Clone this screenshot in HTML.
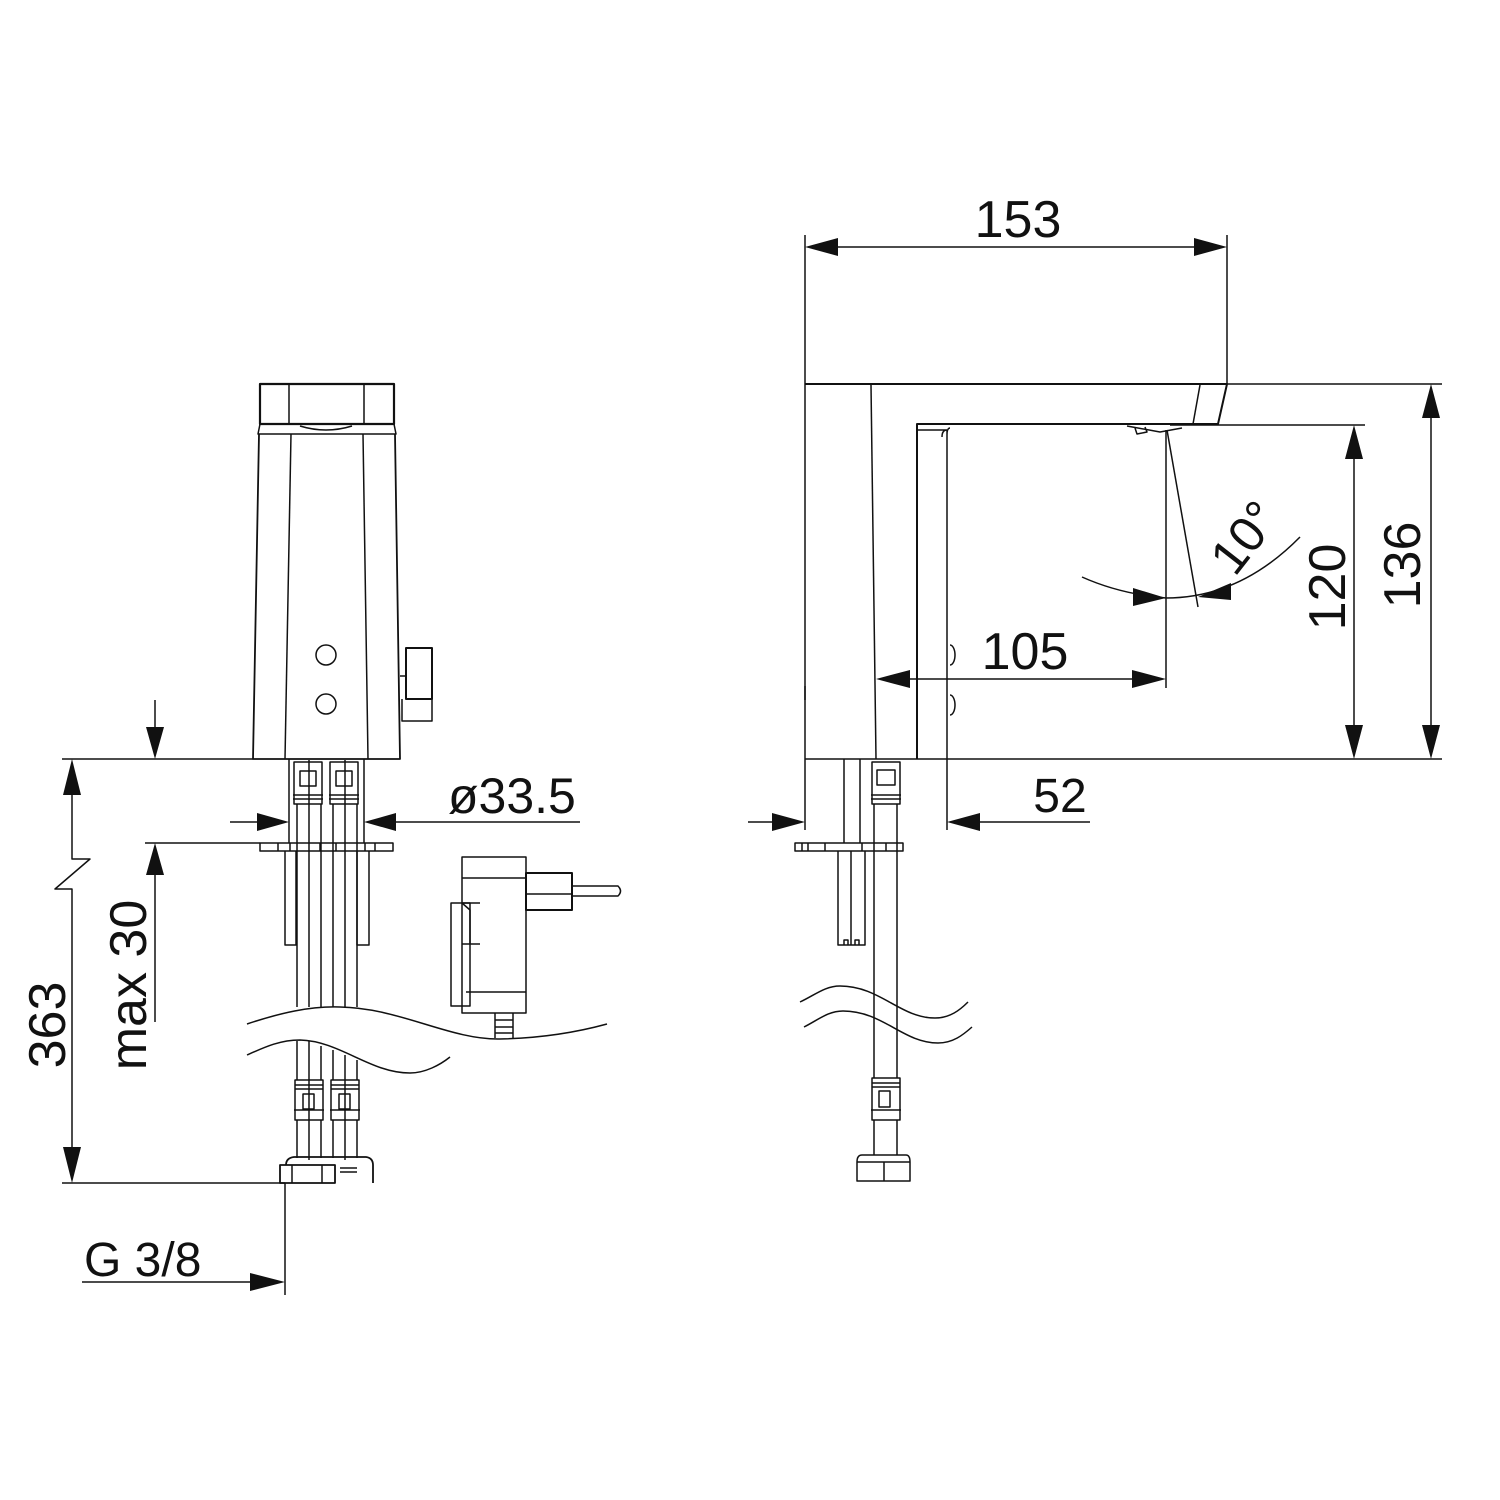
<!DOCTYPE html>
<html><head><meta charset="utf-8"><style>
html,body{margin:0;padding:0;background:#fff}
svg{display:block}
text{font-family:"Liberation Sans",sans-serif;fill:#111}
</style></head><body>
<svg width="1500" height="1500" viewBox="0 0 1500 1500" xmlns="http://www.w3.org/2000/svg">
<g fill="none" stroke="#111" stroke-width="1.5" stroke-linejoin="round">
<!-- ===== LEFT FAUCET ===== -->
<rect x="260" y="384" width="134" height="40" stroke-width="2.2"/>
<line x1="289" y1="384" x2="289" y2="424"/>
<line x1="364" y1="384" x2="364" y2="424"/>
<path d="M260 424 L258 434 L396 434 L394 424"/>
<path d="M300 426 Q326 434 352 426" />
<path d="M259 434 L253 759 L400 759 L395 434" stroke-width="1.8"/>
<line x1="291" y1="434" x2="285" y2="759"/>
<line x1="363" y1="434" x2="368" y2="759"/>
<circle cx="326" cy="655" r="10"/>
<circle cx="326" cy="704" r="10"/>
<rect x="406" y="648" width="26" height="51" stroke-width="2"/>
<path d="M400 676 L406 676 M402 699 L402 721 L432 721 L432 699"/>
<!-- pipes upper -->
<line x1="289" y1="759" x2="289" y2="843"/>
<line x1="364" y1="759" x2="364" y2="843"/>
<path d="M294 762 h28 v42 h-28 z M293 795 h30 M293 799 h30"/>
<path d="M330 762 h28 v42 h-28 z M329 795 h30 M329 799 h30"/>
<rect x="300" y="771" width="16" height="15"/>
<rect x="336" y="771" width="16" height="15"/>
<path d="M297 804 V1007 M309 760 V1007 M321 804 V1007 M333 804 V1007 M345 760 V1007 M357 804 V1007"/>
<!-- flange -->
<rect x="260" y="843" width="133" height="8"/>
<path d="M278 843 v8 M290 843 v8 M320 843 v8 M336 843 v8 M365 843 v8 M375 843 v8"/>
<path d="M285 851 V945 H296 V851 M357 851 V945 H369 V851"/>
<!-- wave cuts -->
<path d="M247 1024 C280 1013 310 1006 340 1007 C400 1008 450 1040 500 1039 C550 1038 585 1030 607 1024"/>
<path d="M247 1055 C265 1047 280 1040 300 1040 C340 1041 370 1073 410 1073 C425 1073 440 1065 450 1057"/>
<!-- pipes lower -->
<path d="M297 1041 V1080 M309 1041 V1160 M321 1046 V1080 M333 1050 V1080 M345 1055 V1160 M357 1060 V1080"/>
<path d="M295 1080 h28 v40 h-28 z M295 1085 h28 M295 1089 h28 M294 1110 h30"/>
<path d="M331 1080 h28 v40 h-28 z M331 1085 h28 M331 1089 h28 M330 1110 h30"/>
<rect x="303" y="1094" width="11" height="15"/>
<rect x="339" y="1094" width="11" height="15"/>
<path d="M297 1120 V1158 M321 1120 V1158 M333 1120 V1158 M357 1120 V1158"/>
<path d="M286 1165 Q286 1158 294 1157 H366 Q373 1158 373 1165 V1183" stroke-width="1.8"/>
<rect x="280" y="1165" width="55" height="18" stroke-width="1.8"/>
<path d="M292 1165 V1183 M322 1165 V1183 M340 1168 H357 M340 1172 H357"/>
<!-- adapter -->
<rect x="462" y="857" width="64" height="156"/>
<path d="M462 878 H526 M466 992 H526"/>
<rect x="526" y="873" width="46" height="37" stroke-width="2"/>
<path d="M526 894 H572"/>
<path d="M572 886 H618 Q623 891 618 896 H572"/>
<rect x="451" y="903" width="19" height="103"/>
<path d="M462 903 L470 910 V944 M462 944 H480 M462 903 H480"/>
<path d="M495 1013 V1038 M513 1013 V1038 M495 1020 h18 M495 1027 h18 M495 1033 h18"/>
<!-- ===== LEFT DIMENSIONS ===== -->
<path d="M62 759 H253 M62 1183 H285 M145 843 H260"/>
<path d="M72 785 V859 L90 859 L55 889 L72 889 V1155"/>
<path d="M155 700 V731 M155 871 V1022"/>
<path d="M230 822 H262 M392 822 H580"/>
<path d="M285 1183 V1295 M82 1282 H257"/>
</g>
<g fill="#111" stroke="none">
<polygon points="72,759 63,795 81,795"/>
<polygon points="72,1183 63,1147 81,1147"/>
<polygon points="155,759 146,727 164,727"/>
<polygon points="155,843 146,875 164,875"/>
<polygon points="289,822 257,813 257,831"/>
<polygon points="364,822 396,813 396,831"/>
<polygon points="285,1282 250,1273 250,1291"/>
</g>
<text x="448" y="813" font-size="50">ø33.5</text>
<text x="84" y="1276" font-size="48">G 3/8</text>
<text transform="translate(65,1025) rotate(-90)" font-size="52" text-anchor="middle">363</text>
<text transform="translate(146,985) rotate(-90)" font-size="52" text-anchor="middle">max  30</text>

<!-- ===== RIGHT FAUCET ===== -->
<g fill="none" stroke="#111" stroke-width="1.5" stroke-linejoin="round">
<path d="M805 384 H1227 L1218 424 H917 V759" stroke-width="2"/>
<path d="M805 384 V759" />
<path d="M1200 385 L1193 424"/>
<path d="M871 385 L876 759"/>
<path d="M917 430 H947 M947 430 Q942 430 942 437 M947 430 V830 M950 428 Q947 428 947 435"/>
<path d="M1127 426 L1160 432 L1182 428 M1135 428 L1137 434 L1147 432 L1145 427"/>
<path d="M950 645 A5 10 0 0 1 950 665 M950 695 A5 10 0 0 1 950 715 M805 686 V700"/>
<path d="M1166 430 V688"/>
<path d="M1167 430 L1198 607"/>
<path d="M1082 577 Q1120 594 1166 598 Q1240 598 1300 537"/>
<!-- dims -->
<path d="M805 235 V384 M1227 235 V384 M836 247 H1196"/>
<path d="M1227 384 H1442 M1170 425 H1365 M805 759 H1442"/>
<path d="M1354 457 V727 M1431 416 V727"/>
<path d="M906 679 H1136"/>
<path d="M748 822 H775 M978 822 H1090"/>
<path d="M805 759 V830"/>
<!-- pipe -->
<path d="M872 762 h28 v42 h-28 z M871 795 h30 M871 799 h30"/>
<rect x="877" y="770" width="18" height="15"/>
<path d="M874 804 V1078 M897 804 V1078 M844 759 V843 M860 759 V843"/>
<rect x="795" y="843" width="108" height="8"/>
<path d="M802 843 v8 M808 843 v8 M825 843 v8 M862 843 v8 M886 843 v8"/>
<path d="M838 851 V945 H865 V851 M851 851 V945 M844 945 v-5 h4 v5 M855 945 v-5 h4 v5"/>
<path d="M800 1002 C815 995 825 986 840 986 C880 986 900 1018 935 1018 C950 1018 960 1010 968 1002"/>
<path d="M804 1027 C818 1020 828 1011 843 1011 C883 1011 903 1043 938 1043 C953 1043 963 1035 972 1027"/>
<path d="M872 1078 h28 v42 h-28 z M872 1083 h28 M872 1087 h28 M871 1110 h30"/>
<rect x="879" y="1091" width="11" height="16"/>
<path d="M874 1120 V1155 M897 1120 V1155"/>
<path d="M862 1155 H906 Q910 1155 910 1162 V1181 H857 V1162 Q857 1155 862 1155 Z M884 1162 V1181 M857 1162 H910"/>
</g>
<g fill="#111" stroke="none">
<polygon points="805,247 838,238 838,256"/>
<polygon points="1227,247 1194,238 1194,256"/>
<polygon points="1354,425 1345,459 1363,459"/>
<polygon points="1354,759 1345,725 1363,725"/>
<polygon points="1431,384 1422,418 1440,418"/>
<polygon points="1431,759 1422,725 1440,725"/>
<polygon points="876,679 910,670 910,688"/>
<polygon points="1166,679 1132,670 1132,688"/>
<polygon points="805,822 772,813 772,831"/>
<polygon points="947,822 980,813 980,831"/>
<polygon points="1166,598 1133,588 1133,606"/>
<polygon points="1198,597 1231,583 1231,600"/>
</g>
<text x="1018" y="237" font-size="52" text-anchor="middle">153</text>
<text x="1025" y="669" font-size="52" text-anchor="middle">105</text>
<text x="1060" y="812" font-size="48" text-anchor="middle">52</text>
<text transform="translate(1345,587) rotate(-90)" font-size="52" text-anchor="middle">120</text>
<text transform="translate(1420,565) rotate(-90)" font-size="52" text-anchor="middle">136</text>
<text transform="translate(1258,548) rotate(-52)" font-size="50" text-anchor="middle">10°</text>
</svg>
</body></html>
